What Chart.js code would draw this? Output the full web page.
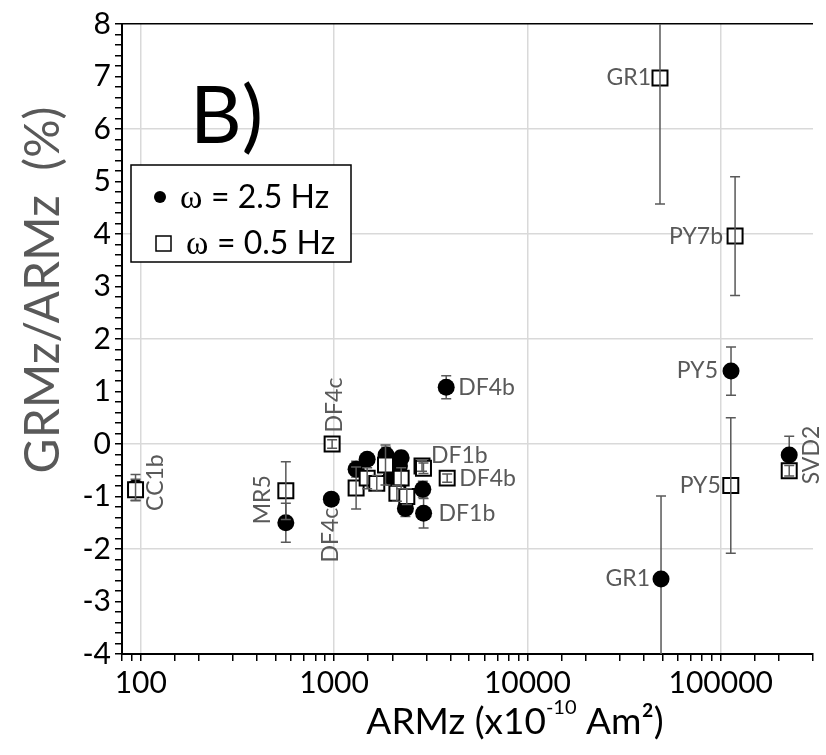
<!DOCTYPE html>
<html>
<head>
<meta charset="utf-8">
<script src="https://cdn.jsdelivr.net/npm/chart.js@4.4.1/dist/chart.umd.min.js"></script>
<style>
  body { margin: 0; background: #fff; }
  #wrap { width: 826px; height: 755px; }
</style>
</head>
<body>
<div id="wrap"><canvas id="chart"></canvas></div>
<script>
//Data
//omega = 2.5 Hz (filled circles)
const armz25 = [94, 563, 968, 1300, 1483, 1858, 2223, 2178, 1973, 2138, 2178, 2339, 2877, 2904, 3802, 49100, 113000, 226000];
const ratio25 = [-0.83, -1.50, -1.05, -0.48, -0.29, -0.21, -0.26, -0.42, -0.63, -0.81, -0.93, -1.23, -0.86, -1.32, 1.08, -2.57, 1.39, -0.21];
const err25 = [0.25, 0.37, 0.08, 0.15, 0.1, 0.15, 0.12, 0.15, 0.15, 0.15, 0.15, 0.15, 0.15, 0.28, 0.22, 1.58, 0.46, 0.36];
const names25 = ["CC1b", "", "DF4c", "", "", "", "", "", "", "", "", "", "", "DF1b", "DF4b", "GR1", "PY5", "SVD2"];
//omega = 0.5 Hz (open squares)
const armz05 = [94, 563, 977, 1300, 1483, 1663, 1845, 2223, 2113, 2378, 2850, 2900, 3846, 48500, 118600, 112700, 226000];
const ratio05 = [-0.87, -0.89, 0.0, -0.84, -0.65, -0.75, -0.40, -0.65, -0.94, -1.00, -0.42, -0.46, -0.65, 6.97, 3.96, -0.79, -0.51];
const err05 = [0.2, 0.55, 0.08, 0.4, 0.2, 0.15, 0.38, 0.2, 0.15, 0.15, 0.1, 0.1, 0.08, 2.4, 1.13, 1.29, 0.1];
const names05 = ["", "MR5", "DF4c", "", "", "", "", "", "", "", "DF1b", "", "DF4b", "GR1", "PY7b", "PY5", ""];

const legendNames = ["= 2.5 Hz", "= 0.5 Hz"];
const yTitle = "GRMz/ARMz  (%)";
const panelTag = "B)";

const FONT = 'Lato, "Open Sans", sans-serif';
const GRAY = "#595959";

//How each sample label sits next to its point: [placement, dx, dy]
const labelPlace = {
  "0-CC1b": ["v", 20, -5], "0-DF4c": ["v", -1, 36], "0-DF1b": ["right", 15, 0], "0-DF4b": ["right", 12, 0],
  "0-GR1": ["left", -11, 0], "0-PY5": ["left", -13, 0], "0-SVD2": ["v", 22, 0],
  "1-MR5": ["v", -23, 9], "1-DF4c": ["v", 2, -39], "1-DF1b": ["right", 9, -10], "1-DF4b": ["right", 12, 0],
  "1-GR1": ["left", -9, 0], "1-PY7b": ["left", -12, 0], "1-PY5": ["left", -10, 0],
};

function isInt(v) {
  return Math.abs(v - Math.round(v)) < 1e-6;
}
function isPow10(v) {
  let l = Math.log10(v);
  return Math.abs(l - Math.round(l)) < 1e-6;
}

//Error bars drawn through the scales
function drawErrors(chart, dsIndex) {
  let ctx = chart.ctx;
  let area = chart.chartArea;
  let xs = chart.scales.x;
  let ys = chart.scales.y;
  let xsArr = dsIndex == 1 ? armz25 : armz05;
  let ysArr = dsIndex == 1 ? ratio25 : ratio05;
  let es = dsIndex == 1 ? err25 : err05;
  ctx.save();
  ctx.beginPath();
  ctx.rect(area.left, area.top, area.right - area.left, area.bottom - area.top);
  ctx.clip();
  ctx.strokeStyle = GRAY;
  ctx.lineWidth = 1.5;
  for (let i = 0; i < xsArr.length; i++) {
    let px = xs.getPixelForValue(xsArr[i]);
    let top = ys.getPixelForValue(ysArr[i] + es[i]);
    let bot = ys.getPixelForValue(ysArr[i] - es[i]);
    ctx.beginPath();
    ctx.moveTo(px, top);
    ctx.lineTo(px, bot);
    ctx.moveTo(px - 5, top);
    ctx.lineTo(px + 5, top);
    ctx.moveTo(px - 5, bot);
    ctx.lineTo(px + 5, bot);
    ctx.stroke();
  }
  ctx.restore();
}

const errorBars = {
  id: "errorBars",
  beforeDatasetDraw(chart, args) {
    //circles sit on top of their bars
    if (args.index == 1) drawErrors(chart, 1);
  },
  afterDatasetDraw(chart, args) {
    //bars show through the open squares
    if (args.index == 0) drawErrors(chart, 0);
  },
};

const decorations = {
  id: "decorations",
  afterDraw(chart) {
    let ctx = chart.ctx;
    let xs = chart.scales.x;
    let ys = chart.scales.y;
    ctx.save();

    //sample names
    ctx.fillStyle = GRAY;
    ctx.font = "23px " + FONT;
    ctx.textBaseline = "middle";
    let sets = [
      [armz05, ratio05, names05, 1],
      [armz25, ratio25, names25, 0],
    ];
    for (let [xa, ya, na, key] of sets) {
      for (let i = 0; i < xa.length; i++) {
        if (!na[i]) continue;
        let px = xs.getPixelForValue(xa[i]);
        let py = ys.getPixelForValue(ya[i]);
        let [place, dx, dy] = labelPlace[key + "-" + na[i]];
        ctx.save();
        if (place == "left") {
          ctx.textAlign = "right";
          ctx.fillText(na[i], px + dx, py + dy);
        } else if (place == "right") {
          ctx.textAlign = "left";
          ctx.fillText(na[i], px + dx, py + dy);
        } else {
          ctx.translate(px + dx, py + dy);
          ctx.rotate(-Math.PI / 2);
          ctx.textAlign = "center";
          ctx.fillText(na[i], 0, 0);
        }
        ctx.restore();
      }
    }

    //panel tag
    ctx.fillStyle = "#000";
    ctx.font = "80px " + FONT;
    ctx.textAlign = "left";
    ctx.textBaseline = "alphabetic";
    ctx.fillText(panelTag, 190, 143);

    //legend box
    ctx.fillStyle = "#fff";
    ctx.fillRect(131, 165, 220, 97);
    ctx.strokeStyle = "#000";
    ctx.lineWidth = 1.5;
    ctx.strokeRect(131, 165, 220, 97);
    ctx.fillStyle = "#000";
    ctx.beginPath();
    ctx.arc(160, 197, 6, 0, Math.PI * 2);
    ctx.fill();
    ctx.lineWidth = 1.5;
    ctx.strokeRect(156, 236, 15, 15);
    ctx.textBaseline = "middle";
    ctx.font = "34px 'Liberation Serif', serif";
    ctx.fillText("\u03C9", 180, 199);
    ctx.fillText("\u03C9", 186, 245);
    ctx.font = "32px " + FONT;
    ctx.fillText(legendNames[0], 211, 198);
    ctx.fillText(legendNames[1], 217, 244);

    //axis titles
    ctx.fillStyle = GRAY;
    ctx.font = "48px " + FONT;
    ctx.textAlign = "center";
    ctx.save();
    ctx.translate(44, 290);
    ctx.rotate(-Math.PI / 2);
    ctx.fillText(yTitle, 0, 0);
    ctx.restore();

    ctx.fillStyle = "#000";
    ctx.textAlign = "left";
    let t1 = "ARMz (x10", t2 = "-10", t3 = " Am\u00B2)";
    ctx.font = "37px " + FONT;
    let w1 = ctx.measureText(t1).width;
    let w3 = ctx.measureText(t3).width;
    ctx.font = "20px " + FONT;
    let w2 = ctx.measureText(t2).width;
    let start = 515 - (w1 + w2 + w3) / 2;
    ctx.font = "37px " + FONT;
    ctx.fillText(t1, start, 722);
    ctx.font = "20px " + FONT;
    ctx.fillText(t2, start + w1, 708);
    ctx.font = "37px " + FONT;
    ctx.fillText(t3, start + w1 + w2, 722);
    ctx.restore();
  },
};

let chart = new Chart(document.getElementById("chart"), {
  type: "scatter",
  data: {
    datasets: [
      {
        label: legendNames[1],
        data: armz05.map((x, i) => ({ x: x, y: ratio05[i] })),
        pointStyle: "rect",
        pointRadius: 10.6,
        pointHoverRadius: 10.6,
        backgroundColor: "#fff",
        borderColor: "#000",
        borderWidth: 2,
        order: 0,
      },
      {
        label: legendNames[0],
        data: armz25.map((x, i) => ({ x: x, y: ratio25[i] })),
        pointStyle: "circle",
        pointRadius: 8.5,
        pointHoverRadius: 8.5,
        backgroundColor: "#000",
        borderColor: "#000",
        borderWidth: 0,
        order: 1,
      },
    ],
  },
  options: {
    responsive: true,
    maintainAspectRatio: false,
    animation: false,
    layout: { padding: { top: 24, right: 13, left: 0, bottom: 0 } },
    plugins: {
      legend: { display: false },
      tooltip: { enabled: false },
    },
    scales: {
      x: {
        type: "logarithmic",
        min: 80,
        max: 300000,
        afterFit: (s) => { s.height = 101; },
        ticks: {
          autoSkip: false,
          maxRotation: 0,
          padding: 4,
          color: "#000",
          font: { family: FONT, size: 30 },
          callback: (v) => (isPow10(v) ? String(Math.round(v)) : ""),
        },
        grid: {
          color: (c) => (c.tick && isPow10(c.tick.value) ? "#d9d9d9" : "rgba(0,0,0,0)"),
          lineWidth: 1.5,
          tickColor: "#000",
          tickWidth: 1.5,
          tickLength: 7,
        },
        border: { color: "#000", width: 2 },
      },
      y: {
        type: "linear",
        min: -4,
        max: 8,
        afterBuildTicks: (s) => {
          s.ticks = [];
          for (let i = -20; i <= 40; i++) s.ticks.push({ value: i / 5 });
        },
        afterFit: (s) => { s.width = 122; },
        ticks: {
          autoSkip: false,
          padding: 4,
          color: "#000",
          font: { family: FONT, size: 30 },
          callback: (v) => (isInt(v) ? String(Math.round(v)) : ""),
        },
        grid: {
          color: (c) => {
            let v = c.tick ? c.tick.value : 0;
            if (Math.abs(v - 8) < 1e-6) return "#000";
            if (isInt(v) && Math.round(v) % 2 == 0 && v > -4) return "#d9d9d9";
            return "rgba(0,0,0,0)";
          },
          lineWidth: 1.5,
          tickColor: "#000",
          tickWidth: 1.5,
          tickLength: 7,
        },
        border: { color: "#000", width: 2 },
      },
    },
  },
  plugins: [errorBars, decorations],
});
</script>
</body>
</html>
